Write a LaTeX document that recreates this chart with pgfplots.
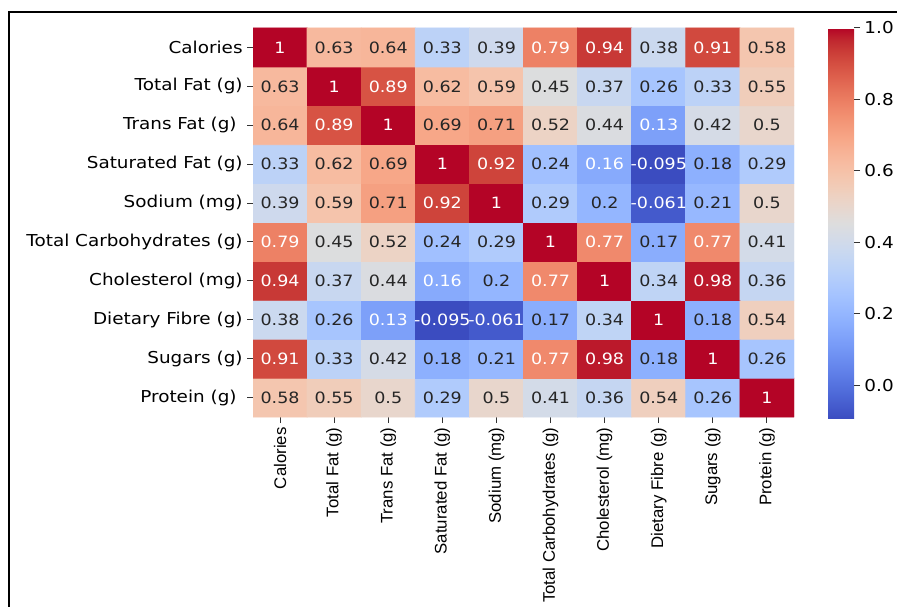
\documentclass[border=0pt]{standalone}
\usepackage{fontspec}
\setmainfont{DejaVu Sans}
\usepackage{pgfplots}
\pgfplotsset{compat=1.18}
\usepackage{pgfplotstable}
\newfontfamily\dvs[FakeStretch=1.12]{DejaVu Sans}
\newfontfamily\lib{Liberation Sans}
\newcommand\ylabfont{\fontsize{8.2}{9}\dvs}
\newcommand\cellfont{\fontsize{7.8}{9}\dvs}
\newcommand\xlabfont{\fontsize{8.4}{9}\lib}

\pgfplotsset{colormap={coolwarm}{
rgb255=(59,76,192) rgb255=(68,90,204) rgb255=(77,104,215) rgb255=(87,117,225)
rgb255=(98,130,234) rgb255=(108,142,241) rgb255=(119,154,247) rgb255=(130,165,251)
rgb255=(141,176,254) rgb255=(152,185,255) rgb255=(163,194,255) rgb255=(174,201,253)
rgb255=(184,208,249) rgb255=(194,213,244) rgb255=(204,217,238) rgb255=(213,219,230)
rgb255=(221,221,221) rgb255=(229,216,209) rgb255=(236,211,197) rgb255=(241,204,184)
rgb255=(245,196,172) rgb255=(247,187,160) rgb255=(247,177,148) rgb255=(247,166,135)
rgb255=(244,154,123) rgb255=(241,141,111) rgb255=(236,127,99) rgb255=(229,112,88)
rgb255=(222,96,77) rgb255=(213,80,66) rgb255=(203,62,56) rgb255=(192,40,47)
rgb255=(180,4,38)}}

% y = 0 Protein ... y = 9 Calories
\pgfplotstableread{
x y v
0 0 0.58
1 0 0.55
2 0 0.5
3 0 0.29
4 0 0.5
5 0 0.41
6 0 0.36
7 0 0.54
8 0 0.26
9 0 1
0 1 0.91
1 1 0.33
2 1 0.42
3 1 0.18
4 1 0.21
5 1 0.77
6 1 0.98
7 1 0.18
8 1 1
9 1 0.26
0 2 0.38
1 2 0.26
2 2 0.13
3 2 -0.095
4 2 -0.061
5 2 0.17
6 2 0.34
7 2 1
8 2 0.18
9 2 0.54
0 3 0.94
1 3 0.37
2 3 0.44
3 3 0.16
4 3 0.2
5 3 0.77
6 3 1
7 3 0.34
8 3 0.98
9 3 0.36
0 4 0.79
1 4 0.45
2 4 0.52
3 4 0.24
4 4 0.29
5 4 1
6 4 0.77
7 4 0.17
8 4 0.77
9 4 0.41
0 5 0.39
1 5 0.59
2 5 0.71
3 5 0.92
4 5 1
5 5 0.29
6 5 0.2
7 5 -0.061
8 5 0.21
9 5 0.5
0 6 0.33
1 6 0.62
2 6 0.69
3 6 1
4 6 0.92
5 6 0.24
6 6 0.16
7 6 -0.095
8 6 0.18
9 6 0.29
0 7 0.64
1 7 0.89
2 7 1
3 7 0.69
4 7 0.71
5 7 0.52
6 7 0.44
7 7 0.13
8 7 0.42
9 7 0.5
0 8 0.63
1 8 1
2 8 0.89
3 8 0.62
4 8 0.59
5 8 0.45
6 8 0.37
7 8 0.26
8 8 0.33
9 8 0.55
0 9 1
1 9 0.63
2 9 0.64
3 9 0.33
4 9 0.39
5 9 0.79
6 9 0.94
7 9 0.38
8 9 0.91
9 9 0.58
}\corr

\begin{document}
\begin{tikzpicture}
\useasboundingbox (0,0) rectangle (448.5pt,303pt);
\begin{axis}[
  at={(126.5pt,94.5pt)}, anchor=south west,
  scale only axis, width=270.5pt, height=194.5pt,
  xmin=-0.5, xmax=9.5, ymin=-0.5, ymax=9.5,
  enlargelimits=false,
  separate axis lines, axis line style={draw=none},
  xtick={0,...,9}, ytick={0,...,9},
  xticklabels={Calories, Total Fat (g), Trans Fat (g), Saturated Fat (g), Sodium (mg), Total Carbohydrates (g), Cholesterol (mg), Dietary Fibre (g), Sugars (g), Protein (g)},
  yticklabels={Protein (g)\hspace*{3pt}, Sugars (g), Dietary Fibre (g), Cholesterol (mg), Total Carbohydrates (g), Sodium (mg), Saturated Fat (g), Trans Fat (g)\hspace*{3pt}, Total Fat (g), Calories},
  xtick pos=bottom, ytick pos=left,
  tick align=outside, major tick length=3pt,
  tick style={black!80, line width=0.5pt},
  xticklabel style={rotate=90, anchor=east, font=\xlabfont, inner sep=2pt},
  yticklabel style={font=\ylabfont, inner sep=2pt},
  point meta min=-0.095, point meta max=1,
  colormap name=coolwarm,
  colorbar,
  colorbar style={
    at={(parent axis.north east)}, anchor=north west, xshift=8.5pt,
    scale only axis, width=13pt, height=195.5pt,
    separate axis lines, axis line style={draw=none},
    ytick={0,0.2,0.4,0.6,0.8,1},
    yticklabels={0.0,0.2,0.4,0.6,0.8,1.0},
    yticklabel style={font=\ylabfont, inner sep=2pt},
    ytick pos=right, tick align=outside, major tick length=3pt,
    tick style={black!80, line width=0.5pt},
  },
]
\addplot[matrix plot*, mesh/cols=10, point meta=explicit] table[x=x, y=y, meta=v] {\corr};
\addplot[draw=none, mark=none, nodes near coords, point meta=explicit symbolic,
  nodes near coords style={anchor=center, font=\cellfont, text=black!85, inner sep=0pt},
  y filter/.expression={(\thisrow{v}>0.75 || \thisrow{v}<0.165) ? nan : y}]
  table[x=x, y=y, meta=v] {\corr};
\addplot[draw=none, mark=none, nodes near coords, point meta=explicit symbolic,
  nodes near coords style={anchor=center, font=\cellfont, text=white, inner sep=0pt},
  y filter/.expression={(\thisrow{v}>0.75 || \thisrow{v}<0.165) ? y : nan}]
  table[x=x, y=y, meta=v] {\corr};
\end{axis}
\draw[line width=1pt] (4.5pt,-5pt) -- (4.5pt,297pt) -- (460pt,297pt);
\end{tikzpicture}
\end{document}
